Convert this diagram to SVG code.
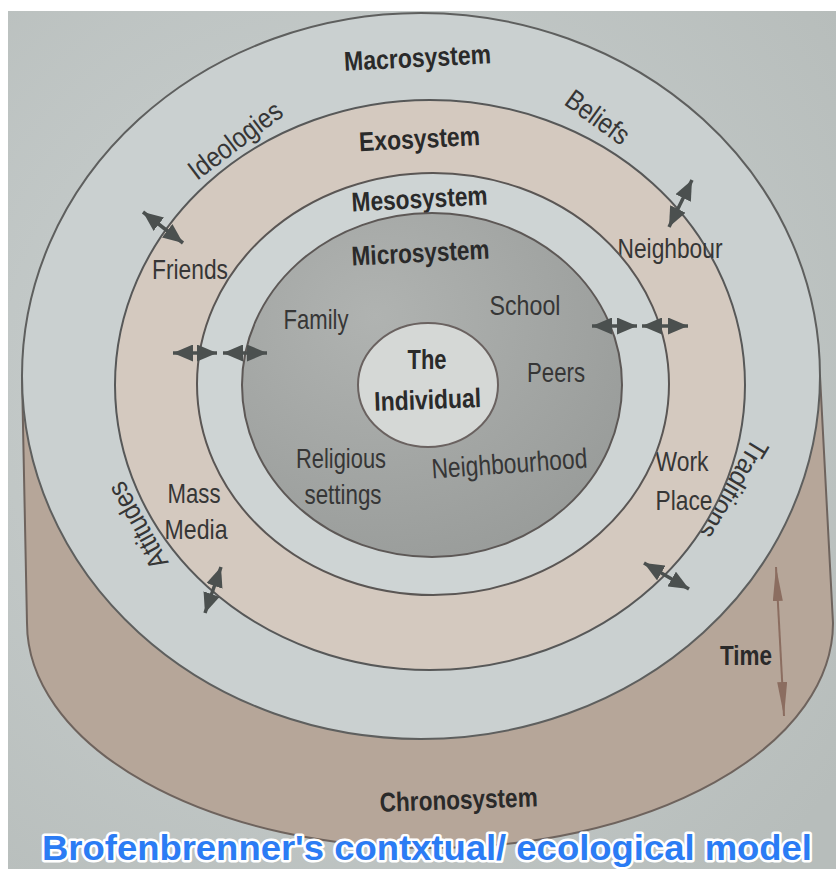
<svg xmlns="http://www.w3.org/2000/svg" width="836" height="869" viewBox="0 0 836 869">
  <defs>
    <radialGradient id="paper" cx="0.4" cy="0.45" r="0.75">
      <stop offset="0" stop-color="#cdd3d3"/>
      <stop offset="1" stop-color="#b7bdbb"/>
    </radialGradient>
    <radialGradient id="microFill" cx="0.35" cy="0.3" r="0.8">
      <stop offset="0" stop-color="#b0b3b1"/>
      <stop offset="1" stop-color="#989b99"/>
    </radialGradient>
    <marker id="head" viewBox="0 0 10 10" refX="10" refY="5" markerWidth="20" markerHeight="17" markerUnits="userSpaceOnUse" orient="auto-start-reverse" preserveAspectRatio="none">
      <path d="M0,0 L10,5 L0,10 z" fill="#4b504f"/>
    </marker>
    <marker id="timeHead" viewBox="0 0 10 10" refX="10" refY="5" markerWidth="34" markerHeight="10" markerUnits="userSpaceOnUse" orient="auto-start-reverse" preserveAspectRatio="none">
      <path d="M0,0 L10,5 L0,10 z" fill="#8b6d60"/>
    </marker>
    <style>
      .ring { stroke-width: 2; }
      .title { font-family: "Liberation Sans", Arial, sans-serif; font-weight: bold; font-size: 27px; fill: #2a2a2a; text-anchor: middle; }
      .label { font-family: "Liberation Sans", Arial, sans-serif; font-size: 28px; fill: #363636; text-anchor: middle; }
      .link { fill: none; stroke: #4b504f; stroke-width: 3.5; marker-start: url(#head); marker-end: url(#head); }
      .caption { font-family: "Liberation Sans", Arial, sans-serif; font-weight: bold; font-size: 35px; fill: #2b7cf4; stroke: #ffffff; stroke-width: 5; paint-order: stroke; stroke-linejoin: round; text-anchor: middle; }
    </style>
  </defs>

  <!-- page -->
  <rect x="0" y="0" width="836" height="869" fill="#ffffff"/>
  <rect x="8" y="11" width="828" height="858" fill="url(#paper)"/>

  <!-- chronosystem: the cylinder body under the rings -->
  <g id="chronosystem">
    <path d="M22,376 L27,623 A403,225 0 0 0 833,623 L820,376 Z" fill="#b6a699" stroke="#6e635d" stroke-width="2"/>
    <text class="title" x="459" y="809" font-size="28" textLength="158" lengthAdjust="spacingAndGlyphs" transform="rotate(-2 459 809)">Chronosystem</text>
  </g>

  <g id="macrosystem">
    <ellipse class="ring" cx="421" cy="376" rx="399" ry="363" fill="#cad0d0" stroke="#5e5f5e"/>
    <text class="title" x="418" y="67" font-size="28" textLength="147" lengthAdjust="spacingAndGlyphs" transform="rotate(-3 418 67)">Macrosystem</text>
    <text class="label" x="241" y="148" textLength="110" lengthAdjust="spacingAndGlyphs" transform="rotate(-37 241 148)">Ideologies</text>
    <text class="label" x="592" y="125" textLength="72" lengthAdjust="spacingAndGlyphs" transform="rotate(36 592 125)">Beliefs</text>
    <text class="label" x="725" y="484" textLength="110" lengthAdjust="spacingAndGlyphs" transform="rotate(121 725 484)">Traditions</text>
    <text class="label" x="146" y="521" textLength="95" lengthAdjust="spacingAndGlyphs" transform="rotate(-119 146 521)">Attitudes</text>
  </g>

  <g id="exosystem">
    <ellipse class="ring" cx="430" cy="385" rx="315" ry="285" fill="#d4c9bf" stroke="#575858"/>
    <text class="title" x="420" y="148" font-size="28" textLength="121" lengthAdjust="spacingAndGlyphs" transform="rotate(-3 420 148)">Exosystem</text>
    <text class="label" x="190" y="279" textLength="76" lengthAdjust="spacingAndGlyphs">Friends</text>
    <text class="label" x="670" y="258" textLength="105" lengthAdjust="spacingAndGlyphs">Neighbour</text>
    <text class="label" x="194" y="503" textLength="53" lengthAdjust="spacingAndGlyphs">Mass</text>
    <text class="label" x="196" y="539" textLength="63" lengthAdjust="spacingAndGlyphs">Media</text>
    <text class="label" x="682" y="471" textLength="53" lengthAdjust="spacingAndGlyphs">Work</text>
    <text class="label" x="684" y="510" textLength="57" lengthAdjust="spacingAndGlyphs">Place</text>
  </g>

  <g id="mesosystem">
    <ellipse class="ring" cx="433" cy="384" rx="236" ry="211" fill="#ced4d4" stroke="#5a5654"/>
    <text class="title" x="420" y="208" font-size="28" textLength="136" lengthAdjust="spacingAndGlyphs" transform="rotate(-3 420 208)">Mesosystem</text>
  </g>

  <g id="microsystem">
    <ellipse class="ring" cx="432" cy="385" rx="190" ry="172" fill="url(#microFill)" stroke="#5d5856"/>
    <text class="title" x="421" y="262" font-size="28" textLength="138" lengthAdjust="spacingAndGlyphs" transform="rotate(-3 421 262)">Microsystem</text>
    <text class="label" x="316" y="329" textLength="65" lengthAdjust="spacingAndGlyphs">Family</text>
    <text class="label" x="525" y="315" textLength="71" lengthAdjust="spacingAndGlyphs">School</text>
    <text class="label" x="556" y="382" textLength="58" lengthAdjust="spacingAndGlyphs">Peers</text>
    <text class="label" x="341" y="468" textLength="90" lengthAdjust="spacingAndGlyphs">Religious</text>
    <text class="label" x="343" y="504" textLength="77" lengthAdjust="spacingAndGlyphs">settings</text>
    <text class="label" x="510" y="473" textLength="156" lengthAdjust="spacingAndGlyphs" transform="rotate(-4 510 473)">Neighbourhood</text>
  </g>

  <g id="individual">
    <ellipse class="ring" cx="428" cy="385" rx="70" ry="62" fill="#d5d8d6" stroke="#6a6260"/>
    <text class="title" x="427" y="369" font-size="28" textLength="39" lengthAdjust="spacingAndGlyphs">The</text>
    <text class="title" x="428" y="409" font-size="28" textLength="107" lengthAdjust="spacingAndGlyphs" transform="rotate(-2 428 409)">Individual</text>
  </g>

  <!-- two-way influences crossing the ring boundaries -->
  <g id="connectors">
    <path class="link" d="M143,212 L183,243"/>
    <path class="link" d="M692,180 L669,227"/>
    <path class="link" d="M173,353 L217,353"/>
    <path class="link" d="M223,353 L267,353"/>
    <path class="link" d="M592,326 L637,326"/>
    <path class="link" d="M642,326 L688,326"/>
    <path class="link" d="M221,567 L205,613"/>
    <path class="link" d="M644,563 L689,589"/>
    <path d="M776,567 L784,716" fill="none" stroke="#8b6d60" stroke-width="2" marker-start="url(#timeHead)" marker-end="url(#timeHead)"/>
  </g>

  <g id="time">
    <text class="title" x="746" y="665" font-size="26" textLength="52" lengthAdjust="spacingAndGlyphs">Time</text>
  </g>

  <g id="caption">
    <text class="caption" x="427" y="860" textLength="770" lengthAdjust="spacingAndGlyphs">Brofenbrenner's contxtual/ ecological model</text>
  </g>
</svg>
